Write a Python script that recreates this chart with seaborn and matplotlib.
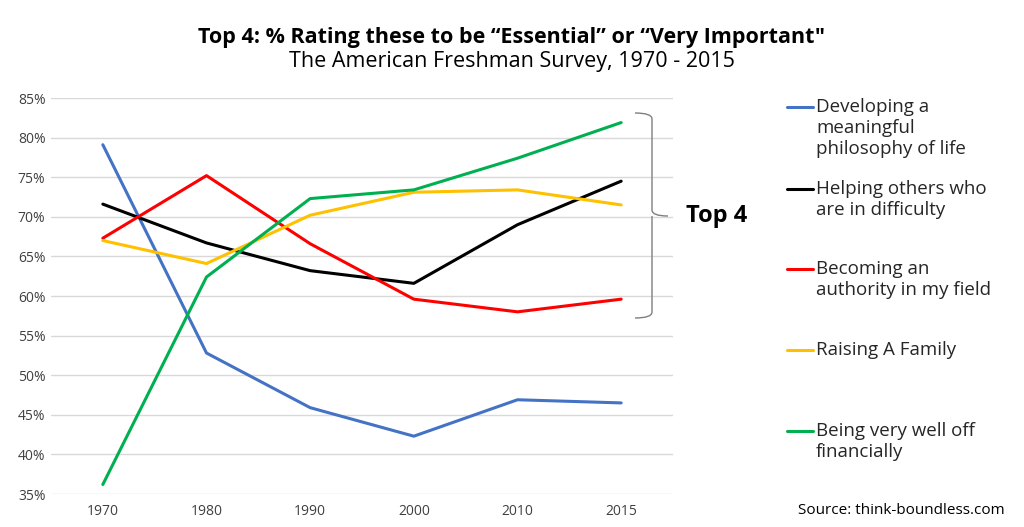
import matplotlib
matplotlib.use("Agg")
import matplotlib.pyplot as plt
from matplotlib.lines import Line2D
from matplotlib.path import Path
from matplotlib.patches import PathPatch
import pandas as pd
import seaborn as sns

years = ["1970", "1980", "1990", "2000", "2010", "2015"]
philosophy = [79.1, 52.8, 45.9, 42.3, 46.9, 46.5]
helping = [71.6, 66.7, 63.2, 61.6, 69.0, 74.5]
authority = [67.3, 75.2, 66.6, 59.6, 58.0, 59.6]
family = [67.0, 64.1, 70.2, 73.1, 73.4, 71.5]
well_off = [36.2, 62.4, 72.3, 73.4, 77.4, 81.9]

series_names = [
    "Developing a\nmeaningful\nphilosophy of life",
    "Helping others who\nare in difficulty",
    "Becoming an\nauthority in my field",
    "Raising A Family",
    "Being very well off\nfinancially",
]
colors = ["#4472C4", "#000000", "#FF0000", "#FFC000", "#00B050"]

df = pd.DataFrame({
    "year": years * 5,
    "value": philosophy + helping + authority + family + well_off,
    "series": [n for n in series_names for _ in years],
})

sns.set_theme(style="white")
plt.rcParams["font.family"] = ["Open Sans", "DejaVu Sans"]

W, H = 1024, 527
fig = plt.figure(figsize=(W / 100, H / 100), dpi=100)
ax = fig.add_axes([51 / W, 1 - 494 / H, (673 - 51) / W, (494 - 98) / H])


def px(x, y):
    return (x / W, 1 - y / H)


sns.lineplot(data=df, x="year", y="value", hue="series", palette=colors,
             hue_order=series_names, linewidth=2.2, legend=False, ax=ax,
             sort=False)

ax.set_xlim(-0.5, 5.5)
ax.set_ylim(35, 85)
ax.set_yticks(range(35, 86, 5))
ax.set_yticklabels([f"{v}%" for v in range(35, 86, 5)], fontsize=10, color="#404040")
ax.tick_params(axis="x", labelsize=10, labelcolor="#404040", pad=7.5, length=0)
ax.tick_params(axis="y", pad=4, length=0)
ax.yaxis.grid(True, color="#D9D9D9", linewidth=1)
ax.set_axisbelow(True)
for s in ax.spines.values():
    s.set_visible(False)
ax.set_xlabel("")
ax.set_ylabel("")

# title
fig.text(*px(512, 38), "Top 4: % Rating these to be “Essential” or “Very Important\"",
         ha="center", va="center", fontsize=15.5, fontweight="bold", color="black")
fig.text(*px(512, 62), "The American Freshman Survey, 1970 - 2015",
         ha="center", va="center", fontsize=15.5, color="black")

# bracket
verts = [px(635, 113), px(652, 113), px(652, 119),
         px(652, 210), px(652, 216), px(668, 216),
         px(652, 216), px(652, 222),
         px(652, 312), px(652, 318), px(635, 318)]
codes = [Path.MOVETO, Path.CURVE3, Path.CURVE3,
         Path.LINETO, Path.CURVE3, Path.CURVE3,
         Path.MOVETO, Path.LINETO,
         Path.LINETO, Path.CURVE3, Path.CURVE3]
fig.add_artist(PathPatch(Path(verts, codes), fill=False, edgecolor="#7F7F7F",
                         linewidth=1, transform=fig.transFigure))
fig.text(*px(686, 216), "Top 4", ha="left", va="center", fontsize=17,
         fontweight="bold", color="black")

# legend
legend_y = [107, 189, 269, 350, 431]
for name, c, y in zip(series_names, colors, legend_y):
    fig.add_artist(Line2D([787 / W, 813 / W], [1 - y / H] * 2, color=c,
                          linewidth=2.2, transform=fig.transFigure))
    fig.text(*px(816, y - 9), name, ha="left", va="top", fontsize=13.5,
             color="#262626", linespacing=1.22)

fig.text(*px(1005, 511), "Source: think-boundless.com", ha="right", va="center",
         fontsize=11, color="black")

fig.savefig("out.png", dpi=100)
